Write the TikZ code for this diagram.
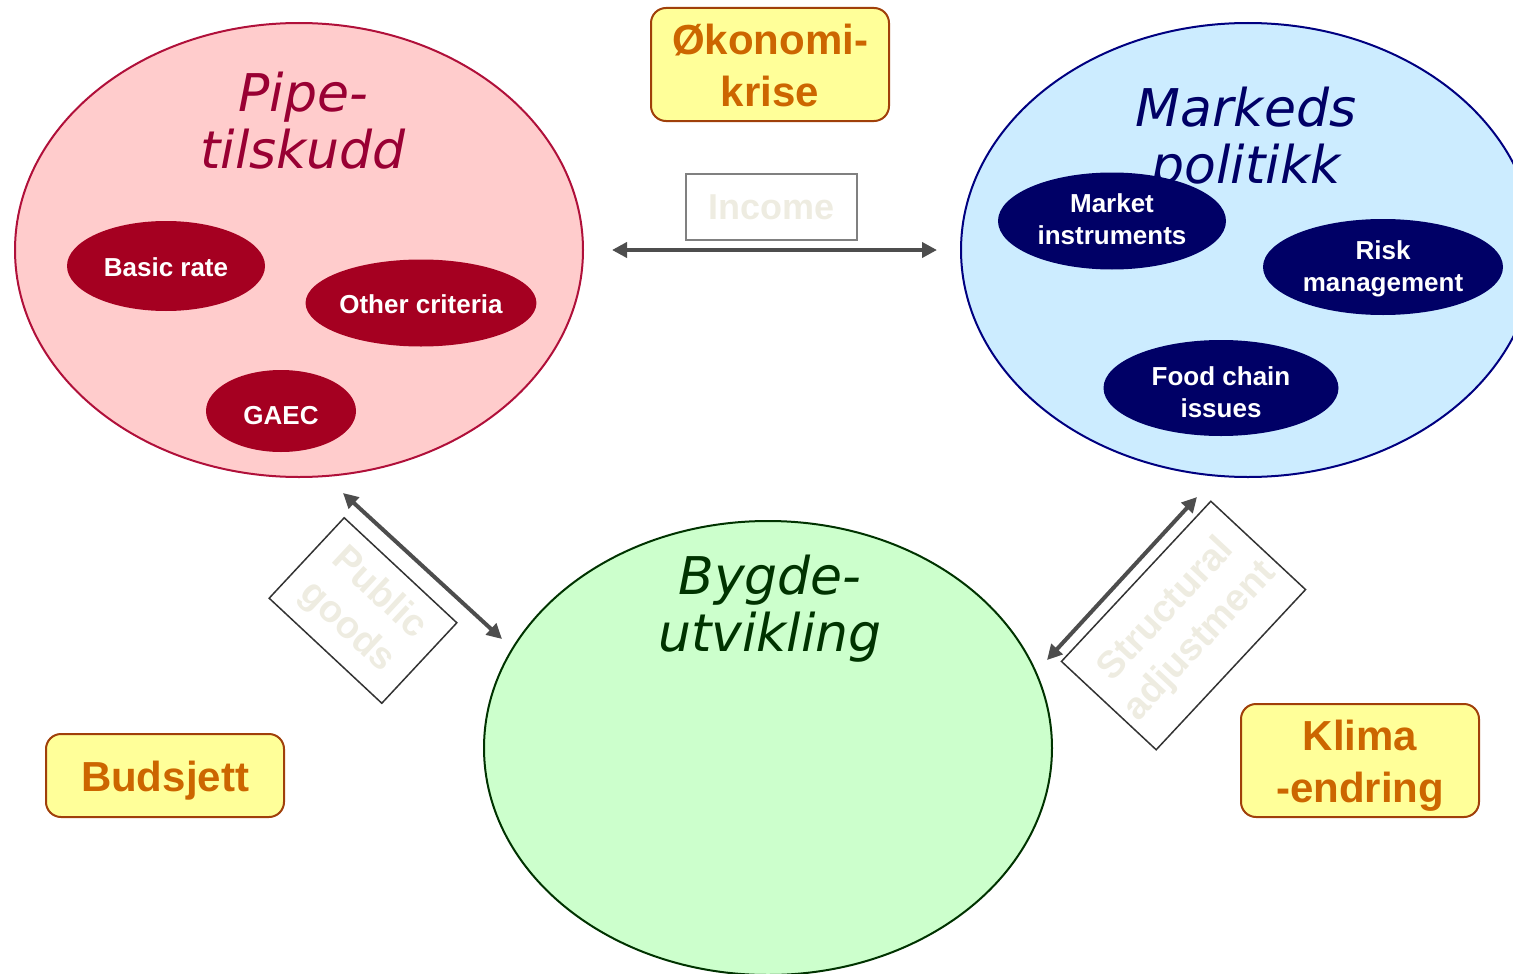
\documentclass[tikz,border=0pt]{standalone}
\usepackage{fontspec}
\setmainfont{Liberation Sans}
\newfontfamily\titlefont{DejaVu Sans}
\usetikzlibrary{shapes.geometric,arrows.meta}
\definecolor{pinkfill}{HTML}{FFCCCC}
\definecolor{pinkline}{HTML}{B0103A}
\definecolor{redin}{HTML}{A50021}
\definecolor{redtitle}{HTML}{990033}
\definecolor{bluefill}{HTML}{CCECFF}
\definecolor{navyline}{HTML}{000080}
\definecolor{navyin}{HTML}{000066}
\definecolor{greenfill}{HTML}{CCFFCC}
\definecolor{greenline}{HTML}{003300}
\definecolor{yfill}{HTML}{FFFF99}
\definecolor{yline}{HTML}{A0400A}
\definecolor{ytext}{HTML}{CC6600}
\definecolor{ghost}{HTML}{EEECE1}
\definecolor{arrowgray}{HTML}{4D4D4D}
\newcommand{\lowr}[2]{\raisebox{-#1}[\height][\depth]{\begin{tabular}{@{}c@{}}#2\end{tabular}}}
\tikzset{
  bigell/.style={ellipse, draw, line width=2pt, inner sep=0pt, minimum width=568pt, minimum height=454pt},
  inell/.style={ellipse, inner sep=0pt, text=white, align=center,
    font=\fontsize{26}{32}\selectfont\bfseries},
  titletxt/.style={align=center, inner sep=0pt, font=\titlefont\itshape\fontsize{52}{57}\selectfont},
  ybox/.style={draw=yline, fill=yfill, rounded corners=15pt, line width=2pt, text=ytext,
    align=center, inner sep=0pt, minimum width=238pt, font=\fontsize{42}{52}\selectfont\bfseries},
  ghostbox/.style={draw=black!80, line width=1.5pt, text=ghost, align=center, inner sep=0pt,
    font=\fontsize{38}{46}\selectfont\bfseries},
  biarrow/.style={draw=arrowgray, line width=4pt, {Triangle[length=15pt,width=15pt]}-{Triangle[length=15pt,width=15pt]}}
}
\begin{document}
\begin{tikzpicture}[x=1pt,y=-1pt]
\useasboundingbox (0,0) rectangle (1513,974);
% big ellipses
\node[bigell, draw=pinkline, fill=pinkfill] (pipe) at (299,250) {};
\node[bigell, draw=navyline, fill=bluefill, minimum width=574pt] (mark) at (1248,250) {};
\node[bigell, draw=greenline, fill=greenfill] (bygd) at (768,748) {};
% titles
\node[titletxt, text=redtitle] (pipet) at (303,121) {Pipe-\\tilskudd};
% inner ellipses (pipe)
\node[inell, fill=redin, minimum width=198pt, minimum height=90pt] (basic) at (166,266) {\lowr{4pt}{Basic rate}};
\node[inell, fill=redin, minimum width=224pt, minimum height=87pt] (other) at (421,303) {\lowr{4pt}{Other criteria}};
\node[inell, fill=redin, minimum width=150pt, minimum height=82pt] (gaec) at (281,411) {\lowr{7pt}{GAEC}};
% markeds
\node[titletxt, text=navyin] (markt) at (1246,141) {Markeds\\politikk};
\node[inell, fill=navyin, minimum width=228pt, minimum height=97pt] (minst) at (1112,221) {\lowr{1pt}{Market\\instruments}};
\node[inell, fill=navyin, minimum width=240pt, minimum height=96pt] (risk) at (1383,267) {\lowr{2pt}{Risk\\management}};
\node[inell, fill=navyin, minimum width=235pt, minimum height=96pt] (food) at (1221,388) {\lowr{7pt}{Food chain\\issues}};
% bygde
\node[titletxt, text=greenline] (bygdt) at (770,609) {Bygde-\\utvikling};
% yellow boxes
\node[ybox, minimum height=113pt] (okon) at (770,64.5) {\lowr{6pt}{Økonomi-\\krise}};
\node[ybox, minimum height=83pt] (buds) at (165,775.5) {\lowr{6pt}{Budsjett}};
\node[ybox, minimum height=113pt] (klima) at (1360,760.5) {\lowr{6pt}{Klima\\-endring}};
% ghost label boxes
\node[draw=black!50, line width=2pt, text=ghost, inner sep=0pt, minimum width=171pt, minimum height=66pt,
  font=\fontsize{36}{42}\selectfont\bfseries] (income) at (771.5,207) {Income};
\node[ghostbox, rotate=-43, minimum width=154pt, minimum height=110pt] (pg) at (363,610.5) {Public\\goods};
\node[ghostbox, rotate=47, minimum width=219pt, minimum height=129.5pt] (sa) at (1183.5,625.5) {Structural\\adjustment};
% arrow endpoints
\coordinate (incL) at (612,250);
\coordinate (incR) at (937,250);
\coordinate (pgA) at (343,493);
\coordinate (pgB) at (502,639);
\coordinate (saA) at (1047,660);
\coordinate (saB) at (1197,497);
\draw[biarrow] (incL) -- (incR);
\draw[biarrow] (pgA) -- (pgB);
\draw[biarrow] (saA) -- (saB);
\end{tikzpicture}
\end{document}
